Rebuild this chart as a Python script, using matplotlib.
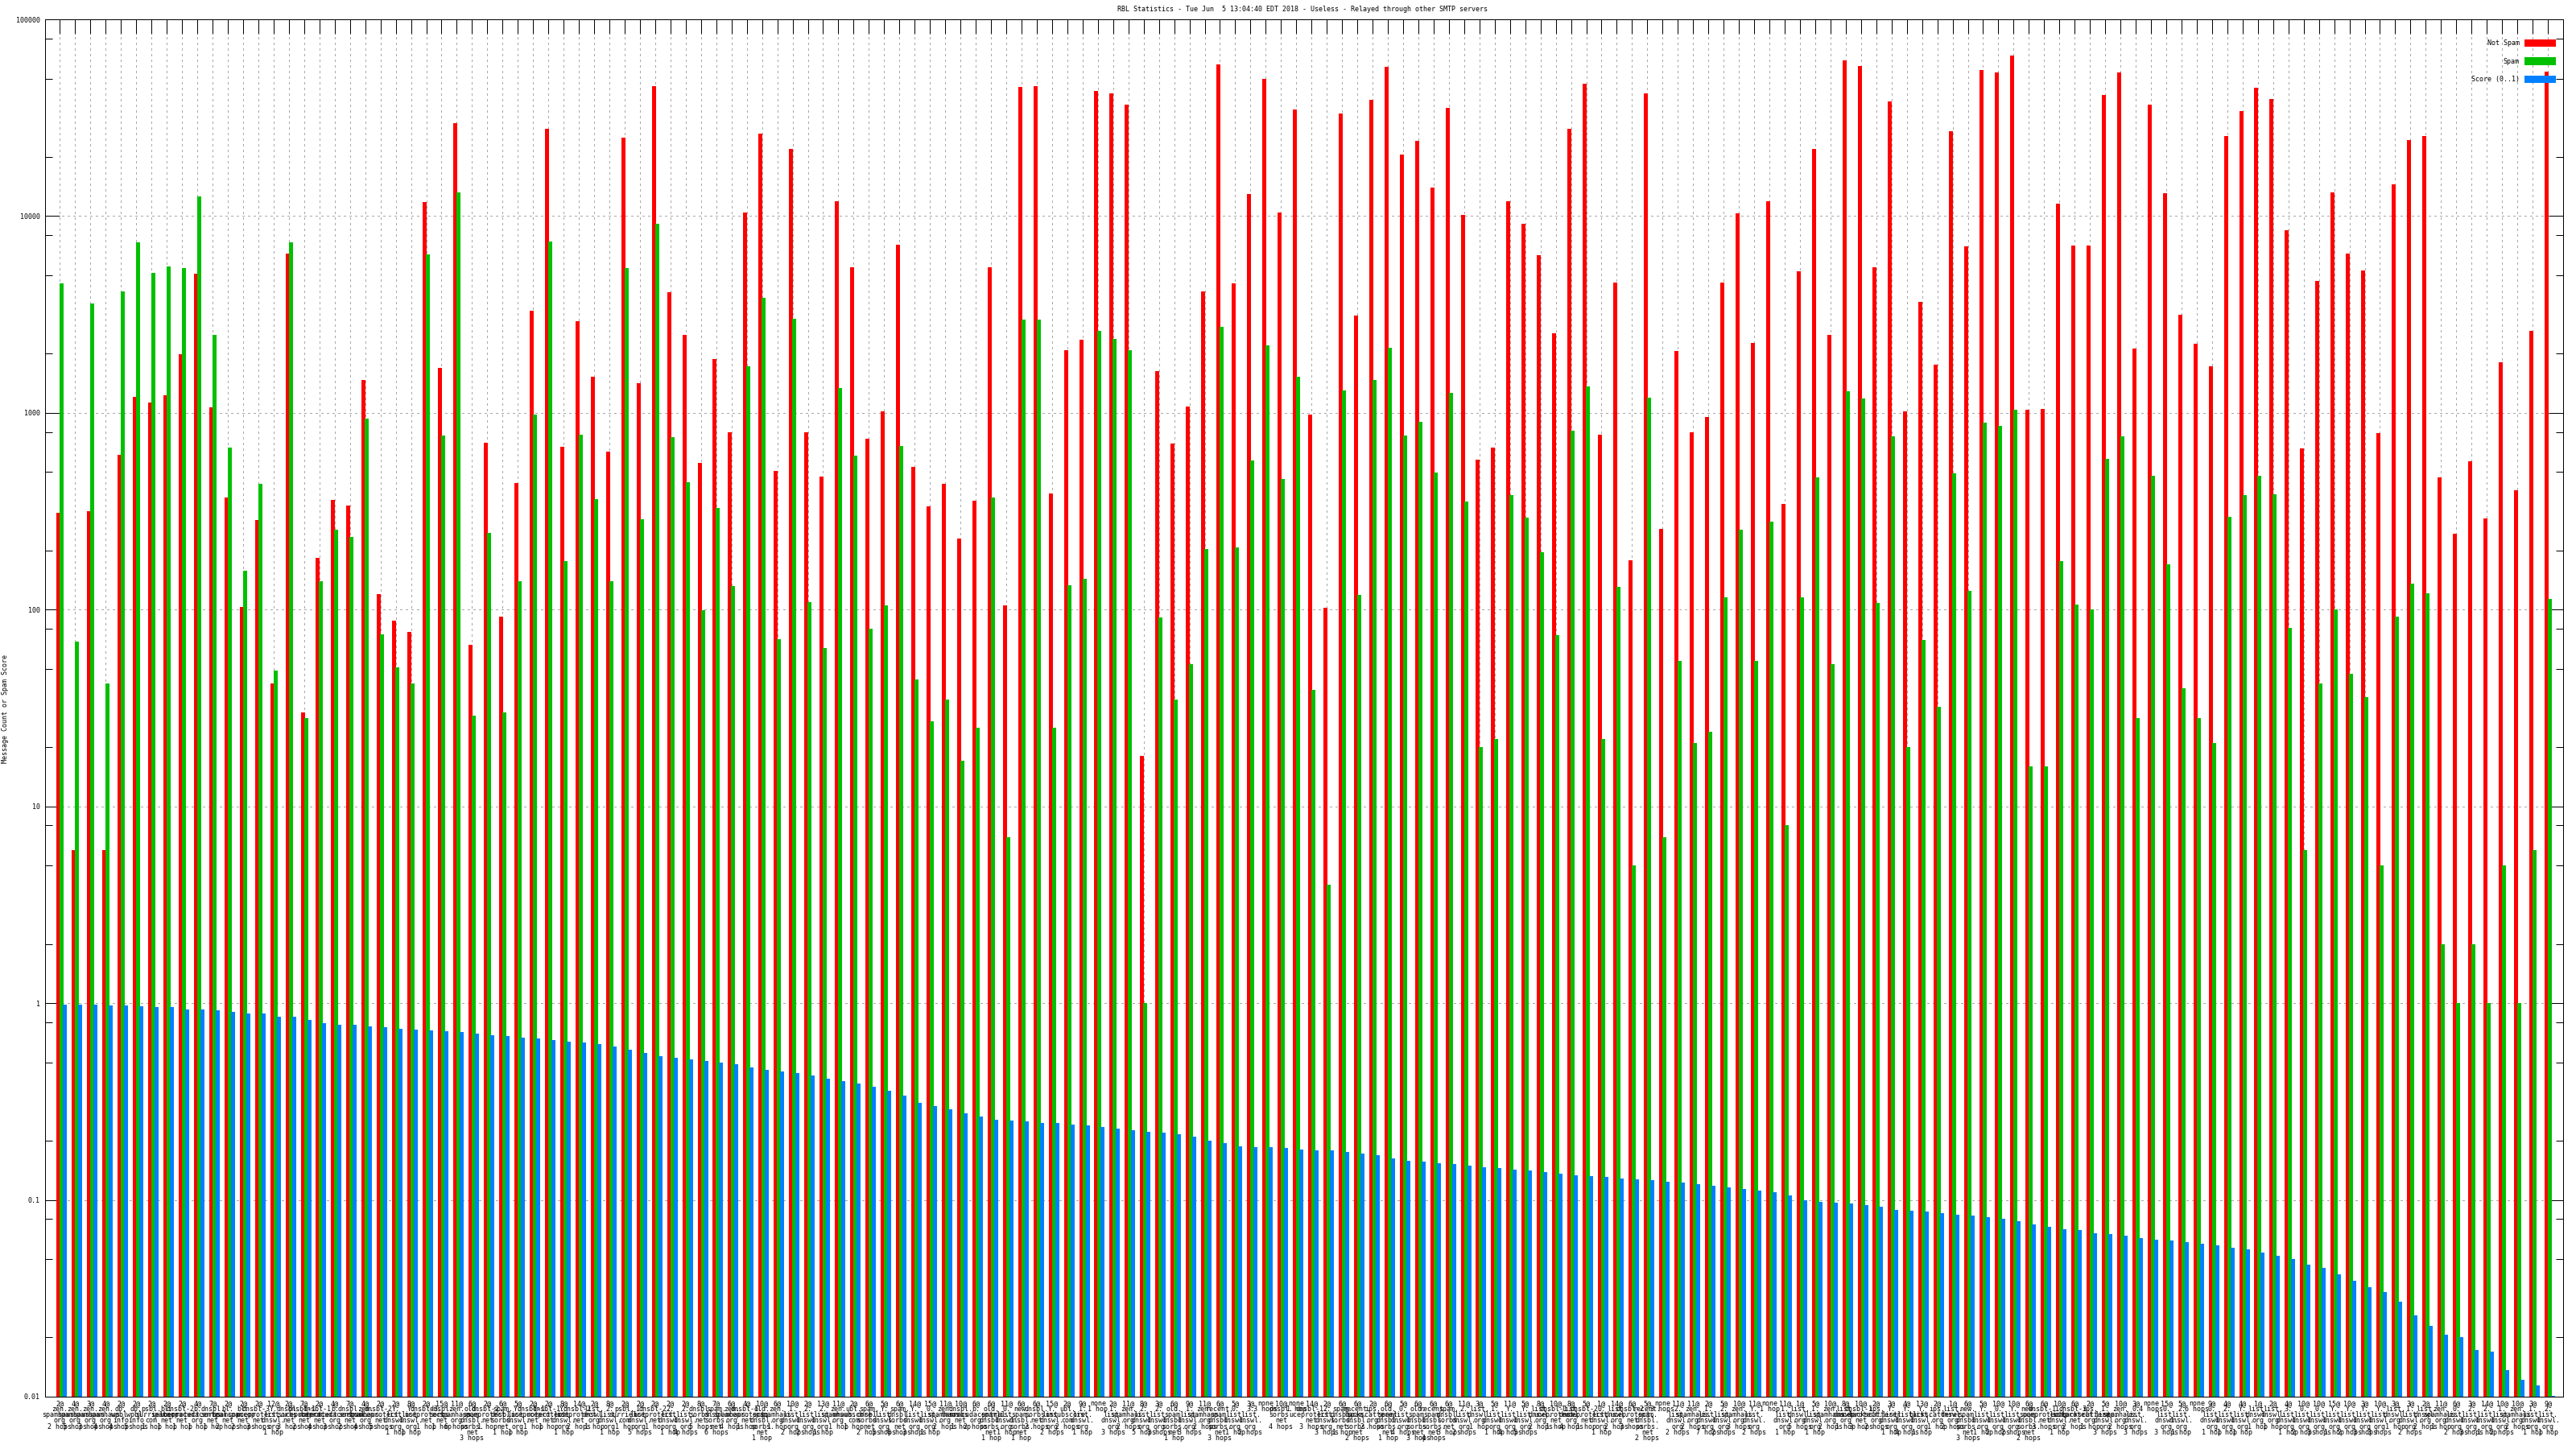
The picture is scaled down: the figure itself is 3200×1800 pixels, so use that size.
#!/usr/bin/env python3

import matplotlib
matplotlib.use("Agg")
import matplotlib.pyplot as plt
import matplotlib.ticker
import numpy as np

plt.rcParams["font.family"] = ["DejaVu Sans Mono"]
plt.rcParams["font.size"] = 6
plt.rcParams["lines.antialiased"] = False
plt.rcParams["patch.antialiased"] = False

not_spam = [
    312, 6, 316, 6, 610, 1210, 1130, 1230, 1990, 5080, 1070, 372, 103, 285, 42, 6430, 30, 183, 361, 338,
    1470, 120, 88, 77, 11800, 1690, 29800, 66, 703, 92, 441, 3310, 27900, 672, 2920, 1520, 634, 25000, 1410, 45800,
    4100, 2480, 559, 1870, 794, 10450, 26300, 508, 22000, 800, 475, 11900, 5470, 740, 1020, 7130, 531, 336, 435, 230,
    359, 5470, 105, 45500, 45800, 389, 2080, 2360, 43200, 41900, 36700, 18, 1630, 698, 1080, 4160, 58900, 4550, 12900, 49700,
    10450, 34800, 980, 102, 33300, 3120, 38900, 57100, 20500, 24100, 14000, 35600, 10100, 580, 667, 11850, 9170, 6310, 2540, 27900,
    47200, 774, 4610, 178, 42200, 257, 2060, 800, 950, 4610, 10300, 2270, 11850, 346, 5230, 21900, 2480, 62000, 58000, 5470,
    38300, 1020, 3670, 1750, 27100, 7030, 55100, 53500, 65300, 1040, 1045, 11600, 7080, 7080, 41300, 53900, 2120, 37000, 13100, 3160,
    2240, 1730, 25400, 34300, 45100, 39200, 8450, 660, 4680, 13200, 6430, 5270, 790, 14500, 24300, 25500, 472, 243, 567, 292,
    1810, 404, 2610, 54300,
]
spam = [
    4550, 69, 3590, 42, 4160, 7350, 5120, 5550, 5430, 12600, 2480, 667, 158, 435, 49, 7350, 28, 139, 254, 234,
    937, 75, 51, 42, 6400, 768, 13200, 29, 246, 30, 139, 980, 7460, 177, 774, 364, 139, 5430, 288, 9170,
    750, 444, 99, 328, 132, 1730, 3830, 71, 3000, 109, 64, 1340, 607, 80, 105, 678, 44, 27, 35, 17,
    25, 372, 7, 2980, 2980, 25, 133, 144, 2610, 2370, 2080, 1, 91, 35, 53, 203, 2730, 208, 571, 2200,
    461, 1520, 39, 4, 1300, 119, 1470, 2140, 768, 904, 497, 1260, 353, 20, 22, 383, 294, 196, 74, 815,
    1360, 22, 130, 5, 1190, 7, 55, 21, 24, 116, 255, 55, 281, 8, 116, 472, 53, 1290, 1185, 108,
    760, 20, 70, 32, 493, 125, 890, 858, 1040, 16, 16, 177, 106, 100, 584, 760, 28, 479, 170, 40,
    28, 21, 296, 383, 479, 387, 81, 6, 42, 100, 47, 36, 5, 92, 135, 121, 2, 1, 2, 1,
    5, 1, 6, 113,
]
score = [
    .984, .984, .984, .975, .975, .966, .957, .957, .930, .930, .921, .904, .887, .887, .855, .855, .823, .792, .778, .778,
    .763, .756, .742, .735, .73, .72, .71, .70, .69, .68, .67, .66, .65, .64, .63, .62, .60, .58, .56, .54,
    .53, .52, .51, .50, .49, .47, .46, .45, .44, .43, .413, .40, .39, .375, .36, .34, .31, .30, .29, .275,
    .265, .256, .254, .25, .247, .245, .242, .24, .235, .23, .225, .222, .22, .215, .21, .20, .195, .188, .186, .185,
    .183, .18, .178, .178, .175, .172, .168, .162, .158, .156, .154, .152, .15, .147, .145, .143, .141, .139, .136, .133,
    .132, .131, .129, .127, .126, .124, .122, .12, .118, .116, .114, .112, .109, .105, .10, .098, .097, .096, .094, .092,
    .089, .088, .087, .086, .084, .083, .082, .08, .078, .075, .073, .0708, .07, .068, .067, .066, .064, .063, .062, .061,
    .06, .059, .0573, .056, .054, .052, .05, .047, .045, .042, .039, .036, .034, .0305, .026, .023, .0207, .0201, .0173, .0170,
    .01368, .01223, .01145, .0101,
]

# lookups used by the multi-line tick labels
hostnames = {
    "z": "zen.spamhaus.org", "db": "db.wpbl.info", "ps": "psbl.surriel.com", "sc": "bl.spamcop.net",
    "d1": "dnsbl-1.uceprotect.net", "d2": "dnsbl-2.uceprotect.net", "d3": "dnsbl-3.uceprotect.net",
    "b": "b.barracudacentral.org", "ds": "dnsbl.sorbs.net", "sp": "spam.dnsbl.sorbs.net",
    "old": "old.spam.dnsbl.sorbs.net", "new": "new.spam.dnsbl.sorbs.net", "rec": "recent.spam.dnsbl.sorbs.net",
    "ip": "ips.backscatterer.org", "ub": "ubl.unsubscore.com", "l": "list.dnswl.org", "ly": "Y.list.dnswl.org",
    "l0": "0.list.dnswl.org", "l1": "1.list.dnswl.org", "l2": "2.list.dnswl.org", "l3": "3.list.dnswl.org",
    "none": "none",
}
hosts = """z z z z db db ps sc d2 b ds sc sc d3 ly ds d1 d1 b ds z d2 ly
ly d3 ds z old d2 sp ly d1 d1 ly d2 l l2 ps l1 d2 l2 l2 ds sp z d1 old z l1 l2 l2 z ub sp ly sp ly l0 z ds b old l0 new ds ly ub l1
none l1 z l2 l2 old l1 z rec l0 l3 none ds
none d1 l2 sp rec ip old l0 old rec sp l2 l l1 ly ly l d1 l d2 l0 l d2 rec none l2 z l1 l2 z ly none l1 l l1 z l d1 ip ly ly ly ip l new ly l0 ly new d1 l1 d3 ip l1 z l0 none l0
l2 none l0 l2 ly l l l3 l0 l0 ly ly ly ly l l1 l z l0 l2 l2 l1 z l1 l2""".split()
counts = """2 4 3 4 2 2 2 2 2 4 7 2 2 2 12 2 7 2 4 7 4 2 2
8 2 15 11 6 2 6 5 2 2 8 14 2 8 2 2 2 2 2 8 7 6 4 10 6 10 2 13 11 2 6 5 6 14 15 11 10 6 6 11 6 6 15 2 9 none 2 11 8 3 6 9 11 6 5 3 none 10
none 14 2 6 6 2 6 5 6 6 6 11 3 5 11 5 8 10 8 5 1 14 6 5 none 11 11 2 5 10 11 none 11 1 5 10 8 10 2 3 4 13 2 1 6 5 10 10 6 6 10 6 2 5 10 3 none 15
5 none 9 4 4 1 2 4 10 10 15 10 3 10 3 3 2 11 6 3 14 10 10 3 9""".split()
hops = [
    2, 5, 3, 4, 4, 5, 1, 1, 1, 1, 1, 2, 2, 3, 1, 3, 2, 4, 3, 2, 4, 5, 1,
    1, 1, 1, 6, 3, 1, 1, 1, 1, 1, 1, 2, 1, 1, 1, 5, 1, 1, 4, 5, 6, 4, 1, 1, 1, 2, 2, 1, 1, 1, 2, 5, 6, 3, 1,
    2, 1, 2, 1, 1, 1, 2, 2, 2, 1, 1, 3, 2, 5, 3, 1, 3, 2, 3, 1, 2, 3, 4,
    1, 3, 3, 1, 2, 2, 1, 4, 3, 4, 3, 2, 1, 1, 4, 5, 2, 1, 4, 1, 1, 2, 3, 2, 3, 2, 2, 7, 2, 3, 2, 1, 1, 5, 1, 2, 1, 3, 2, 1, 4, 1, 1, 2, 3, 1, 2, 2, 2, 3, 1, 2, 1, 3, 2, 3, 4, 3,
    1, 6, 1, 1, 1, 1, 1, 1, 2, 3, 1, 2, 3, 3, 1, 2, 2, 1, 2, 3, 1, 2, 2, 1, 1,
]

tick_values = [0.01, 0.1, 1, 10, 100, 1000, 10000, 100000]
tick_names = ["0.01", "0.1", "1", "10", "100", "1000", "10000", "100000"]
title = "RBL Statistics - Tue Jun  5 13:04:40 EDT 2018 - Useless - Relayed through other SMTP servers"


def makeLabel(count, host, hop):
    hopText = "1 hop" if hop == 1 else "%d hops" % hop
    if count == "none":
        return "none\n" + hopText
    return count + "@\n" + hostnames[host].replace(".", ".\n") + "\n" + hopText


labels = [makeLabel(c, h, n) for c, h, n in zip(counts, hosts, hops)]
x = np.arange(len(not_spam))
ymin = 0.01

fig = plt.figure(figsize=(32, 18), dpi=100)
ax = fig.add_axes([55.5 / 3200, 65 / 1800, 3128.5 / 3200, 1711 / 1800])
ax.set_yscale("log")
ax.set_xlim(-1, 164)
ax.set_ylim(ymin, 100000)

barw = 5 / 18.96
ax.bar(x - 0.095, np.array(not_spam) - ymin, barw, bottom=ymin, color="#ff0000", label="Not Spam", linewidth=0)
ax.bar(x + 0.116, np.array(spam) - ymin, barw, bottom=ymin, color="#00c000", label="Spam", linewidth=0)
ax.bar(x + 0.327, np.array(score) - ymin, barw, bottom=ymin, color="#0080ff", label="Score (0..1)", linewidth=0)

ax.set_axisbelow(True)
ax.set_xticks(x, labels)
ax.set_yticks(tick_values, tick_names)
minor = [m * 10.0 ** k for k in range(-2, 5) for m in (2, 5, 8)]
ax.set_yticks(minor, minor=True)
ax.yaxis.set_minor_formatter(matplotlib.ticker.NullFormatter())
ax.tick_params(which="major", direction="in", length=13, width=0.72, top=True, right=True, labelsize=6, pad=4)
ax.tick_params(which="minor", direction="in", length=6.5, width=0.72, right=True)
ax.tick_params(axis="x", pad=3)
for t in ax.get_xticklabels():
    t.set_linespacing(0.73)
    t.set_verticalalignment("top")

ax.grid(True, which="major", color="#a8a8a8", linewidth=0.72, linestyle=(0, (2.5, 4.5)))
for s in ax.spines.values():
    s.set_linewidth(0.72)

leg = ax.legend(
    loc="upper right",
    bbox_to_anchor=(3175 / 3200, 1 - 49 / 1800),
    bbox_transform=fig.transFigure,
    frameon=False,
    markerfirst=False,
    fontsize=6,
    borderpad=0,
    borderaxespad=0,
    handlelength=4.7,
    handleheight=1.32,
    labelspacing=1.56,
    handletextpad=0.72,
)
leg.set_zorder(10)

fig.text(1618 / 3200, 1 - 12 / 1800, title, ha="center", va="center", fontsize=6)
fig.text(7 / 3200, 1 - 880 / 1800, "Message Count or Spam Score", rotation=90, ha="center", va="center", fontsize=6)

fig.savefig("out.png", dpi=100)
